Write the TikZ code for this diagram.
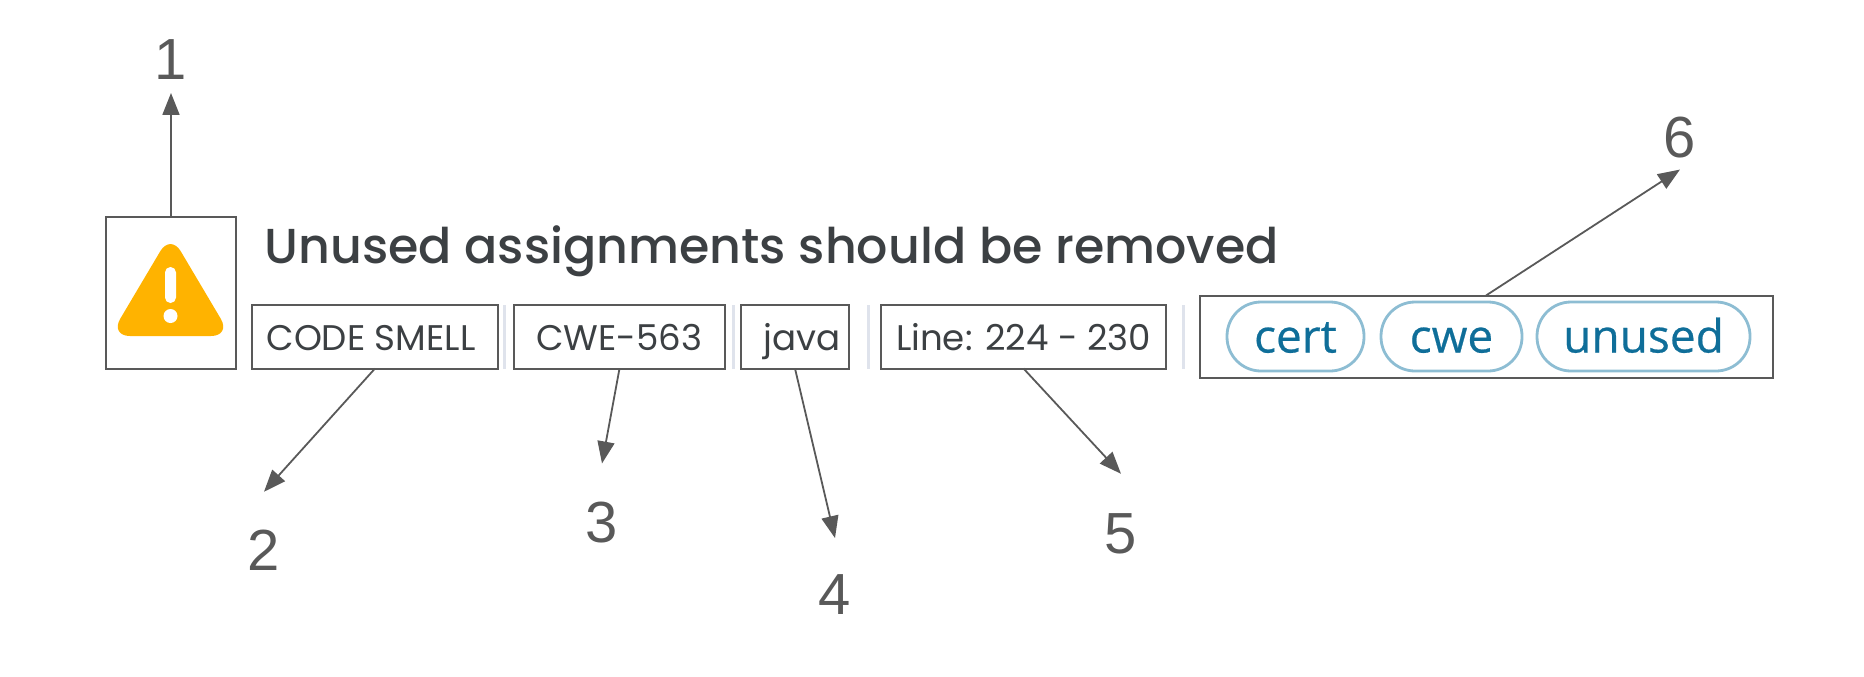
\documentclass[tikz,border=0pt]{standalone}
\usepackage{fontspec}
\setmainfont{Poppins}
\newfontfamily\titlefont{Poppins Medium}
\newfontfamily\tagfont[BoldFont={Open Sans},BoldFeatures={FakeBold=0.5}]{Open Sans}
\newfontfamily\numfont{Liberation Sans}
\usepackage{xcolor}
\usetikzlibrary{arrows.meta,positioning}
\definecolor{cLine}{HTML}{595959}
\definecolor{cText}{HTML}{3C4043}
\definecolor{cTag}{HTML}{0F6E99}
\definecolor{cPill}{HTML}{8DBDD3}
\definecolor{cSep}{HTML}{DFE3EC}
\definecolor{cWarn}{HTML}{FFB300}
\tikzset{
  blk/.style={draw=cLine, line width=1pt, inner sep=0pt, outer sep=0pt, minimum height=32pt,
              text height=14.3pt, text depth=0pt, font=\fontsize{17.8}{20}\selectfont, text=cText, align=center},
  pill/.style={draw=cPill, line width=1.4pt, rounded corners=17pt, inner sep=0pt, outer sep=0pt,
               minimum height=34.5pt, text height=16pt, text depth=0pt,
               font=\tagfont\bfseries\fontsize{23}{25}\selectfont, text=cTag},
  sep/.style={draw=cSep, line width=1.5pt},
  arr/.style={-{Triangle[length=11pt, width=8.5pt]}, line width=.9pt, cLine},
  num/.style={inner sep=0pt, outer sep=0pt, font=\numfont\fontsize{29}{30}\selectfont, text=cLine}
}
\begin{document}
\begin{tikzpicture}[x=.5pt, y=-.5pt]
\useasboundingbox (0,0) rectangle (1864,676);
% Row of boxes
\node[blk, minimum width=65pt, minimum height=76pt, text height=0pt, anchor=south west] (iconbox) at (106,368.5) {};
\node[blk, minimum width=123pt, right=8pt of iconbox.south east, anchor=south west] (smellbox) {CODE SMELL\hspace*{4pt}};
\node[blk, minimum width=105.5pt, right=8pt of smellbox] (cwebox) {CWE-563};
\node[blk, minimum width=54pt, right=8pt of cwebox] (javabox) {\hspace*{7pt}java};
\node[blk, minimum width=142.5pt, right=16pt of javabox] (linebox) {Line: 224 - 230};
\node[blk, minimum width=286.5pt, minimum height=41pt, text height=0pt, right=16.75pt of linebox] (tagbox) {};
\node[font=\titlefont\fontsize{24.55}{26}\selectfont, text=cText, inner sep=0pt, above=20.5pt of smellbox.north west, anchor=base west, xshift=6pt] (title) {Unused assignments should be removed};
% Warning sign
\fill[cWarn, rounded corners=10pt] (170.5,234) -- (231,336) -- (110,336) -- cycle;
\fill[white, rounded corners=2.7pt] (165,267) rectangle (176,303);
\fill[white] (170.5,316) circle (3.5pt);
% Separators
\draw[sep] (smellbox.south east) ++(3pt,0) -- ++(0,-64);
\draw[sep] (cwebox.south east) ++(4pt,0) -- ++(0,-64);
\draw[sep] (javabox.south east) ++(9.5pt,0) -- ++(0,-64);
\draw[sep] (linebox.south east) ++(8.5pt,0) -- ++(0,-64);
% Tags
\node[pill, minimum width=68.5pt, right=13.75pt of tagbox.west, anchor=west] (certpill) {cert};
\node[pill, minimum width=70.5pt, right=8.5pt of certpill] (cwepill) {cwe};
\node[pill, minimum width=106.5pt, right=7.5pt of cwepill] (unusedpill) {unused};
% Numbers
\node[num] (numa) at (171,60) {1};
\node[num] (numb) at (264,550) {2};
\node[num] (numc) at (602,523) {3};
\node[num] (numd) at (835,595) {4};
\node[num] (nume) at (1121,534) {5};
\node[num] (numf) at (1680,138) {6};
\coordinate[below=6.5pt of numa] (tipa);
\coordinate[above=19pt of numb] (tipb);
\coordinate[above=19.5pt of numc] (tipc);
\coordinate[above=18.5pt of numd] (tipd);
\coordinate[above=20pt of nume] (tipe);
\coordinate[below=5.5pt of numf] (tipf);
\draw[arr] (iconbox.north) -- (tipa);
\draw[arr] (smellbox.south) -- (tipb);
\draw[arr] (cwebox.south) -- (tipc);
\draw[arr] (javabox.south) -- (tipd);
\draw[arr] (linebox.south) -- (tipe);
\draw[arr] (tagbox.north) -- (tipf);
\end{tikzpicture}
\end{document}
